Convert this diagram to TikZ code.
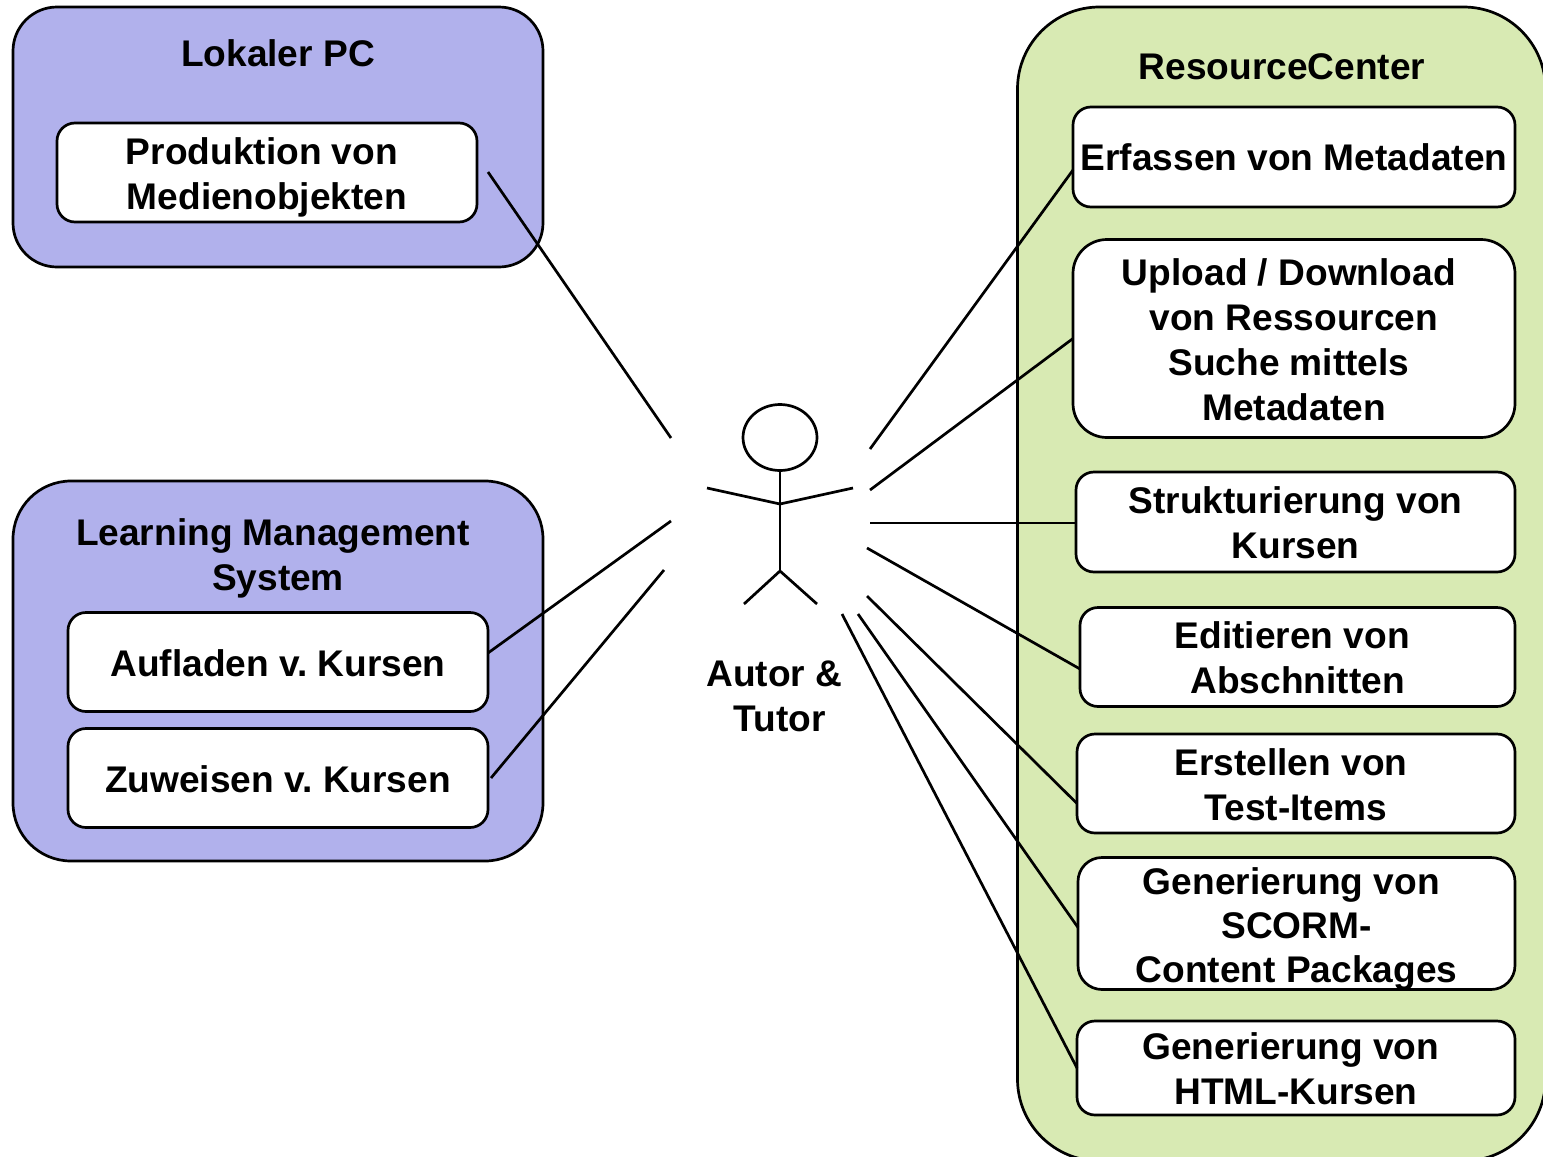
\documentclass[tikz,border=0pt]{standalone}
\usepackage{fontspec}
\setmainfont{Liberation Sans}
\usetikzlibrary{calc}
\usetikzlibrary{shapes.geometric}
\definecolor{pcblue}{HTML}{B1B1EC}
\definecolor{rcgreen}{HTML}{D8EAB3}
\newcommand{\tsp}{\kern 5.1pt}% trailing blank of a line
\newcommand{\drop}[1]{\rule{0pt}{#1}}% lowers the text of a box
\tikzset{
	every node/.append style={font=\fontsize{18.55}{22.5}\selectfont\bfseries\frenchspacing, align=center, inner sep=0pt, outer sep=0pt},
	region/.style={draw, line width=1.35pt},
	usecase/.style={draw, line width=1.35pt, fill=white, rounded corners=9pt},
	link/.style={line width=1.35pt},
}
\begin{document}
\begin{tikzpicture}[x=.5pt,y=-.5pt]
	\clip (0,0) rectangle (1543,1157);
	% regions
	\node[region, fill=pcblue, rounded corners=22pt, minimum width=265pt, minimum height=130pt] (pc) at (278,137) {};
	\node[region, fill=pcblue, rounded corners=29pt, minimum width=265pt, minimum height=190pt] (lms) at (278,671) {};
	\node[region, fill=rcgreen, rounded corners=41pt, minimum width=264pt, minimum height=577pt] (rc) at (1281.5,584) {};
	\node (pctitle) at (278,53) {Lokaler PC};
	\node (lmstitle) at (278,558) {Learning Management\tsp\\System};
	\node (rctitle) at (1282,67) {ResourceCenter};
	% left boxes
	\node[usecase, minimum width=210pt, minimum height=49.5pt] (prod) at (267,172.5) {\drop{18pt}Produktion von\tsp\\Medienobjekten};
	\node[usecase, minimum width=210pt, minimum height=49.5pt] (aufladen) at (278,662) {\drop{14.5pt}Aufladen v. Kursen};
	\node[usecase, minimum width=210pt, minimum height=49.5pt] (zuweisen) at (278,778) {\drop{14.5pt}Zuweisen v. Kursen};
	% right boxes
	\node[usecase, minimum width=221pt, minimum height=50pt] (erfassen) at (1294,157) {Erfassen von Metadaten};
	\node[usecase, rounded corners=17pt, minimum width=221pt, minimum height=99pt] (upload) at (1294,338.5) {\drop{14.5pt}Upload / Download\tsp\\von Ressourcen\\Suche mittels\tsp\\Metadaten};
	\node[usecase, minimum width=219.5pt, minimum height=50pt] (struktur) at (1295.5,522) {\drop{14.5pt}Strukturierung von\\Kursen};
	\node[usecase, minimum width=217.5pt, minimum height=49.5pt] (editieren) at (1297.5,657) {\drop{14.5pt}Editieren von\tsp\\Abschnitten};
	\node[usecase, minimum width=219pt, minimum height=49.5pt] (erstellen) at (1296,783.5) {\drop{14.5pt}Erstellen von\tsp\\Test-Items};
	\node[usecase, rounded corners=12pt, minimum width=218.5pt, minimum height=66pt] (scorm) at (1296.5,923.5) {};
	\node (scormtext) at (1296.5,929) {Generierung von\tsp\\[-.5pt]SCORM-\\[-.5pt]Content Packages};
	\node[usecase, minimum width=219pt, minimum height=47pt] (html) at (1296,1068) {\drop{14.5pt}Generierung von\tsp\\HTML-Kursen};
	% actor
	\node[draw, ellipse, line width=1.35pt, minimum width=37pt, minimum height=33pt] (head) at (780,437.5) {};
	\coordinate (neck) at (780,504);
	\coordinate (hip) at (780,571);
	\draw[link] (head.south) -- (hip);
	\draw[link] (707,488) coordinate (lhand) -- (neck) -- (853,488) coordinate (rhand);
	\draw[link] (744,604) coordinate (lfoot) -- (hip) -- (817,604) coordinate (rfoot);
	\node (autor) at (779.5,696) {Autor \&\tsp\\Tutor};
	% free ends round the actor
	\coordinate (a1) at (671,438);
	\coordinate (a2) at (671,521);
	\coordinate (a3) at (664,570);
	\coordinate (b1) at (870,449);
	\coordinate (b2) at (870,490);
	\coordinate (b3) at (870,523);
	\coordinate (b4) at (867,548);
	\coordinate (b5) at (867,596);
	\coordinate (b6) at (858,614);
	\coordinate (b7) at (842,614);
	\coordinate (p1) at (488,172);
	% connectors
	\draw[link] (p1) -- (a1);
	\draw[link] ([yshift=4.5pt]aufladen.east) -- (a2);
	\draw[link] ([xshift=1.5pt]zuweisen.east) -- (a3);
	\draw[link] ([yshift=-6.5pt]erfassen.west) -- (b1);
	\draw[link] (upload.west) -- (b2);
	\draw[link] ([yshift=-.5pt]struktur.west) -- (b3);
	\draw[link] ([yshift=-6pt]editieren.west) -- (b4);
	\draw[link] ([yshift=-10pt]erstellen.west) -- (b5);
	\draw[link] ([yshift=-2pt]scorm.west) -- (b6);
	\draw[link] (html.west) -- (b7);
\end{tikzpicture}
\end{document}
